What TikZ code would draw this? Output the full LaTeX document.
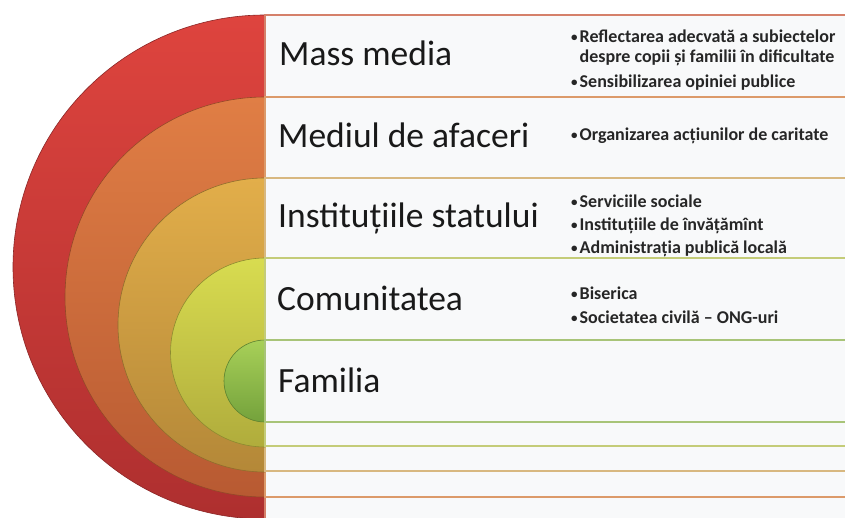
\documentclass[tikz,border=0pt]{standalone}
\usepackage{fontspec}
\setmainfont{Carlito}
\definecolor{redT}{HTML}{DE443E}\definecolor{redB}{HTML}{AE2F2F}
\definecolor{oraT}{HTML}{E07E45}\definecolor{oraB}{HTML}{B85A32}
\definecolor{yelT}{HTML}{E2AE4A}\definecolor{yelB}{HTML}{B48838}
\definecolor{ygT}{HTML}{D8DC50}\definecolor{ygB}{HTML}{B0AC3C}
\definecolor{grT}{HTML}{A8D058}\definecolor{grB}{HTML}{74A23C}
\definecolor{redL}{HTML}{D5806A}\definecolor{oraL}{HTML}{DC9A6A}
\definecolor{yelL}{HTML}{D8B880}\definecolor{ygL}{HTML}{C4CC78}
\definecolor{grL}{HTML}{A8C478}
\definecolor{panelbg}{HTML}{F8F9FA}
\newcommand{\mybul}{{\fontsize{13}{13}\selectfont\raisebox{1pt}{•}}}
\begin{document}
\begin{tikzpicture}[x=1pt,y=1pt]
\tikzset{
  panel/.style={fill=panelbg, draw=#1, line width=1.6pt},
  ring/.style={draw=#1!80!black, line width=0.6pt},
  lab/.style={anchor=base west, font=\fontsize{35.5}{38}\selectfont, text=black!90, inner sep=0pt},
  pts/.style={anchor=base west, font=\bfseries\fontsize{18}{20}\selectfont, text=black!85, inner sep=0pt},
}
\useasboundingbox (0,0) rectangle (845,517);
\clip (0,0) rectangle (845,517);
% red layer
\shade[top color=redT, bottom color=redB, ring=redB] (265,502) arc[start angle=90,end angle=270,radius=252] -- cycle;
\draw[panel=redL] (265,-6) rectangle (855,502);
% orange layer
\shade[top color=oraT, bottom color=oraB, ring=oraB] (265,420) arc[start angle=90,end angle=270,radius=200] -- cycle;
\draw[panel=oraL] (265,20) rectangle (855,420);
% yellow-orange layer
\shade[top color=yelT, bottom color=yelB, ring=yelB] (265,339) arc[start angle=90,end angle=270,radius=147] -- cycle;
\draw[panel=yelL] (265,46) rectangle (855,339);
% yellow-green layer
\shade[top color=ygT, bottom color=ygB, ring=ygB] (265,259) arc[start angle=90,end angle=270,radius=94.5] -- cycle;
\draw[panel=ygL] (265,71) rectangle (855,259);
% green layer
\shade[top color=grT, bottom color=grB, ring=grB] (265,177) arc[start angle=90,end angle=270,radius=41] -- cycle;
\draw[panel=grL] (265,95) rectangle (855,177);
% labels
\node[lab] (lMass) at (279,451) {Mass media};
\node[lab] (lMed) at (278,369) {Mediul de afaceri};
\node[lab] (lInst) at (278,289) {Instituțiile statului};
\node[lab] (lCom) at (277,207) {Comunitatea};
\node[lab] (lFam) at (278,125) {Familia};
% bullet lists
\node[pts] (bMass) at (571,474) {\begin{tabular}[t]{@{}l@{\hspace{2pt}}l@{}}\mybul&Reflectarea adecvată a subiectelor\\ &despre copii și familii în dificultate\\[5pt] \mybul&Sensibilizarea opiniei publice\end{tabular}};
\node[pts] (bMed) at (571,376) {\begin{tabular}[t]{@{}l@{\hspace{2pt}}l@{}}\mybul&Organizarea acțiunilor de caritate\end{tabular}};
\node[pts] (bInst) at (571,309) {\begin{tabular}[t]{@{}l@{\hspace{2pt}}l@{}}\mybul&Serviciile sociale\\[3pt] \mybul&Instituțiile de învățămînt\\[3pt] \mybul&Administrația publică locală\end{tabular}};
\node[pts] (bCom) at (571,218) {\begin{tabular}[t]{@{}l@{\hspace{2pt}}l@{}}\mybul&Biserica\\[4pt] \mybul&Societatea civilă – ONG-uri\end{tabular}};
\end{tikzpicture}
\end{document}
